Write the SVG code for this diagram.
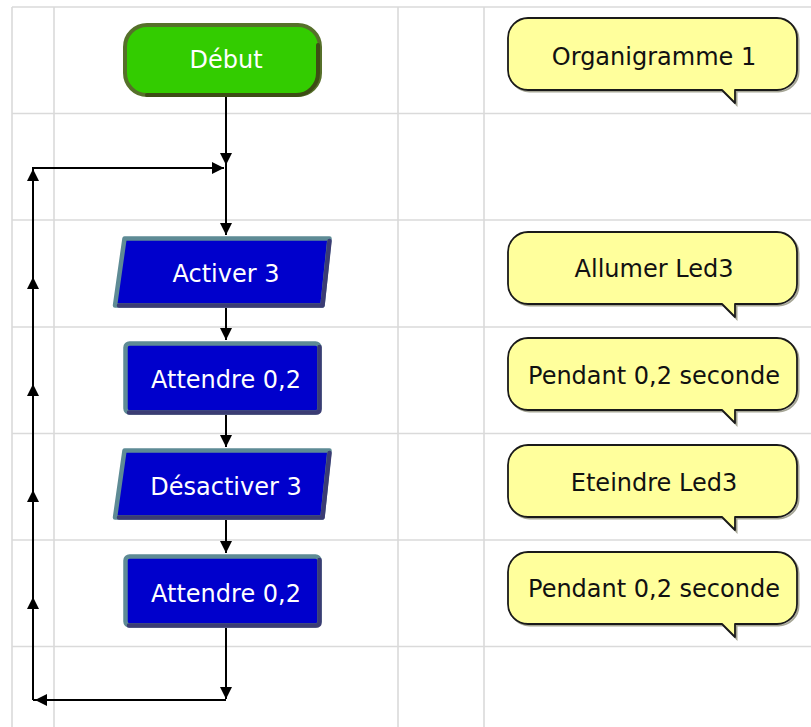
<svg xmlns="http://www.w3.org/2000/svg" width="811" height="727" viewBox="0 0 811 727">
<defs>
<style>
.grid{stroke:#dadada;stroke-width:1.6;fill:none}
.cn{stroke:#000;stroke-width:2;fill:none}
.arr{marker-end:url(#ah)}
.lbl{font-family:"DejaVu Sans",Verdana,sans-serif;font-size:24px;text-anchor:middle}
.w{fill:#fff}
.k{fill:#111}
.blue{fill:#0000cc;stroke:#5e8b95;stroke-width:4.5;stroke-linejoin:round}
.bdark{fill:none;stroke:#3b3c74;stroke-width:4.5;stroke-linejoin:round;stroke-linecap:round}
.bub{fill:#ffff9c;stroke:#1a1a1a;stroke-width:1.8;stroke-linejoin:round}
.bsh{fill:none;stroke:#6a6a50;stroke-width:2;opacity:0.6}
</style>
<marker id="ah" viewBox="0 0 10 10" refX="10" refY="5" markerWidth="12" markerHeight="12" markerUnits="userSpaceOnUse" orient="auto">
<path d="M0 0 L10 5 L0 10 Z" fill="#000"/>
</marker>
</defs>
<rect width="811" height="727" fill="#fff"/>
<g id="grid">
<path class="grid" d="M12 7 V727 M54 7 V727 M398 7 V727 M484 7 V727 M12 7 H811 M12 113.5 H811 M12 220 H811 M12 327 H811 M12 433.5 H811 M12 540 H811 M12 646.5 H811"/>
</g>
<g id="connectors">
<path class="cn arr" d="M226 97 V165"/>
<path class="cn arr" d="M226 165 V235"/>
<path class="cn arr" d="M226 308 V340"/>
<path class="cn arr" d="M226 415 V447"/>
<path class="cn arr" d="M226 520 V553"/>
<path class="cn arr" d="M226 628 V699"/>
<path class="cn" d="M226 700 H33"/>
<path class="cn arr" d="M226 700 H35"/>
<path class="cn arr" d="M33 700 V597"/>
<path class="cn arr" d="M33 597 V490"/>
<path class="cn arr" d="M33 490 V384"/>
<path class="cn arr" d="M33 384 V277"/>
<path class="cn arr" d="M33 277 V169"/>
<path class="cn" d="M33 169 V168"/>
<path class="cn arr" d="M32 168 H224"/>
</g>
<g id="debut">
<rect x="125" y="25" width="195" height="70" rx="22" fill="#33cc00" stroke="#56702a" stroke-width="4"/>
<path d="M318 45 V73 A22 22 0 0 1 296 95 H147" fill="none" stroke="#3d4d15" stroke-width="4" stroke-linecap="round"/>
<text class="lbl w" x="226" y="68">Début</text>
</g>
<g id="activer3">
<path class="blue" d="M124.5 238.5 H329.5 L322.5 305.5 H115 Z"/>
<path class="bdark" d="M329.5 241 L322.5 305.5 H119"/>
<text class="lbl w" x="226" y="282">Activer 3</text>
</g>
<g id="attendre1">
<rect class="blue" x="125.5" y="343.5" width="194" height="69" rx="4"/>
<path class="bdark" d="M319.5 347 V409 Q319.5 412.5 316 412.5 H129"/>
<text class="lbl w" x="226" y="388">Attendre 0,2</text>
</g>
<g id="desactiver3">
<path class="blue" d="M124.5 450.5 H329.5 L322.5 517.5 H115 Z"/>
<path class="bdark" d="M329.5 453 L322.5 517.5 H119"/>
<text class="lbl w" x="226" y="495">Désactiver 3</text>
</g>
<g id="attendre2">
<rect class="blue" x="125.5" y="556.5" width="194" height="69" rx="4"/>
<path class="bdark" d="M319.5 560 V622 Q319.5 625.5 316 625.5 H129"/>
<text class="lbl w" x="226" y="602">Attendre 0,2</text>
</g>
<g id="note1">
<path class="bsh" transform="translate(1.5,1.5)" d="M528 18 H777 A20 20 0 0 1 797 38 V70 A20 20 0 0 1 777 90 H735 V103 L722 90 H528 A20 20 0 0 1 508 70 V38 A20 20 0 0 1 528 18 Z"/>
<path class="bub" d="M528 18 H777 A20 20 0 0 1 797 38 V70 A20 20 0 0 1 777 90 H735 V103 L722 90 H528 A20 20 0 0 1 508 70 V38 A20 20 0 0 1 528 18 Z"/>
<text class="lbl k" x="654" y="65">Organigramme 1</text>
</g>
<g id="note2">
<path class="bsh" transform="translate(1.5,215.5)" d="M528 18 H777 A20 20 0 0 1 797 38 V70 A20 20 0 0 1 777 90 H735 V103 L722 90 H528 A20 20 0 0 1 508 70 V38 A20 20 0 0 1 528 18 Z"/>
<path class="bub" transform="translate(0,214)" d="M528 18 H777 A20 20 0 0 1 797 38 V70 A20 20 0 0 1 777 90 H735 V103 L722 90 H528 A20 20 0 0 1 508 70 V38 A20 20 0 0 1 528 18 Z"/>
<text class="lbl k" x="654" y="277">Allumer Led3</text>
</g>
<g id="note3">
<path class="bsh" transform="translate(1.5,321.5)" d="M528 18 H777 A20 20 0 0 1 797 38 V70 A20 20 0 0 1 777 90 H735 V103 L722 90 H528 A20 20 0 0 1 508 70 V38 A20 20 0 0 1 528 18 Z"/>
<path class="bub" transform="translate(0,320)" d="M528 18 H777 A20 20 0 0 1 797 38 V70 A20 20 0 0 1 777 90 H735 V103 L722 90 H528 A20 20 0 0 1 508 70 V38 A20 20 0 0 1 528 18 Z"/>
<text class="lbl k" x="654" y="384">Pendant 0,2 seconde</text>
</g>
<g id="note4">
<path class="bsh" transform="translate(1.5,428.5)" d="M528 18 H777 A20 20 0 0 1 797 38 V70 A20 20 0 0 1 777 90 H735 V103 L722 90 H528 A20 20 0 0 1 508 70 V38 A20 20 0 0 1 528 18 Z"/>
<path class="bub" transform="translate(0,427)" d="M528 18 H777 A20 20 0 0 1 797 38 V70 A20 20 0 0 1 777 90 H735 V103 L722 90 H528 A20 20 0 0 1 508 70 V38 A20 20 0 0 1 528 18 Z"/>
<text class="lbl k" x="654" y="491">Eteindre Led3</text>
</g>
<g id="note5">
<path class="bsh" transform="translate(1.5,535.5)" d="M528 18 H777 A20 20 0 0 1 797 38 V70 A20 20 0 0 1 777 90 H735 V103 L722 90 H528 A20 20 0 0 1 508 70 V38 A20 20 0 0 1 528 18 Z"/>
<path class="bub" transform="translate(0,534)" d="M528 18 H777 A20 20 0 0 1 797 38 V70 A20 20 0 0 1 777 90 H735 V103 L722 90 H528 A20 20 0 0 1 508 70 V38 A20 20 0 0 1 528 18 Z"/>
<text class="lbl k" x="654" y="597">Pendant 0,2 seconde</text>
</g>
</svg>
